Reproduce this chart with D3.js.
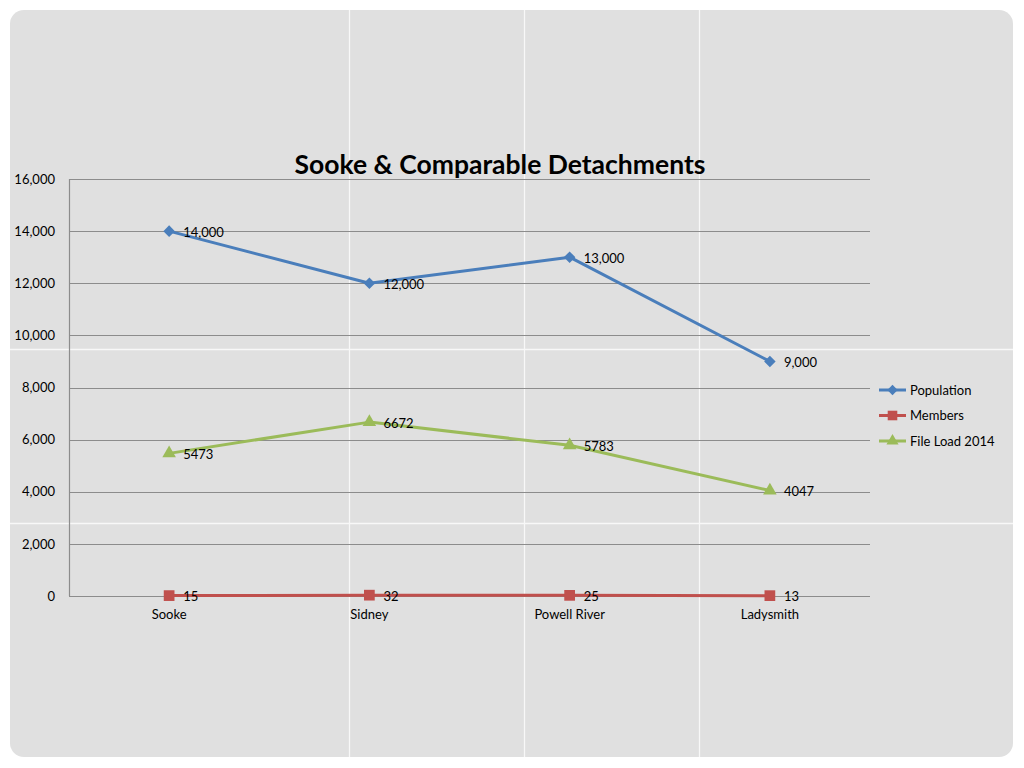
<!DOCTYPE html>
<html><head><meta charset="utf-8">
<script src="https://cdn.jsdelivr.net/npm/d3@7"></script>
<style>body{margin:0;background:#fff;}svg{display:block;font-family:"Lato","Open Sans",sans-serif;}</style>
</head><body>
<svg id="c" width="1024" height="768"></svg>
<script>
const categories = ["Sooke", "Sidney", "Powell River", "Ladysmith"];
const population = [14000, 12000, 13000, 9000];
const members = [15, 32, 25, 13];
const fileLoad = [5473, 6672, 5783, 4047];
const yTicks = [0, 2000, 4000, 6000, 8000, 10000, 12000, 14000, 16000];
const seriesNames = ["Population", "Members", "File Load 2014"];

(function(){
const FONT = "Lato, Open Sans, sans-serif";
const FS = 13;
const svg = d3.select("#c");
// slide background
svg.append("rect").attr("x",10).attr("y",10).attr("width",1003).attr("height",747).attr("rx",14).attr("fill","#e0e0e0");
const bgLines = svg.append("g").attr("stroke","#f8f8f8").attr("stroke-width",1.3);
[349.5,524.5,699.5].forEach(x=>bgLines.append("line").attr("x1",x).attr("x2",x).attr("y1",10).attr("y2",757));
[349.5,523.5].forEach(y=>bgLines.append("line").attr("x1",10).attr("x2",1013).attr("y1",y).attr("y2",y));

const pL=69, pR=870, pT=179, pB=596;
const x = d3.scaleBand().domain(categories).range([pL,pR]);
const y = d3.scaleLinear().domain([0,16000]).range([pB,pT]);
const cx = c => x(c)+x.bandwidth()/2;

// gridlines
svg.append("g").selectAll("line").data(yTicks).join("line")
  .attr("x1",pL).attr("x2",pR).attr("y1",d=>Math.round(y(d))+0.5).attr("y2",d=>Math.round(y(d))+0.5)
  .attr("stroke","#8c8c8c").attr("stroke-width",1.2);
svg.append("line").attr("x1",pL+0.5).attr("x2",pL+0.5).attr("y1",pT).attr("y2",pB).attr("stroke","#8c8c8c").attr("stroke-width",1.2);

// y axis labels
const yAxis = d3.axisLeft(y).tickValues(yTicks).tickFormat(d3.format(",")).tickSize(0).tickPadding(14);
const ya = svg.append("g").attr("transform",`translate(${pL},0)`).call(yAxis);
ya.select(".domain").remove();
ya.selectAll("text").attr("font-size",FS).attr("fill","#000").attr("font-family",FONT);

// x axis labels
const xAxis = d3.axisBottom(x).tickSize(0).tickPadding(14);
const xa = svg.append("g").attr("transform",`translate(0,${pB})`).call(xAxis);
xa.select(".domain").remove();
xa.selectAll("text").attr("font-size",FS).attr("fill","#000").attr("font-family",FONT);

// title
svg.append("text").attr("x",500).attr("y",174).attr("text-anchor","middle").attr("font-family",FONT)
  .attr("font-size",26.5).attr("font-weight","bold").attr("fill","#000").text("Sooke & Comparable Detachments");

const series = [
  {name:seriesNames[0], values:population, color:"#4a7ebb", marker:d3.symbolDiamond2, size:85, fmt:d3.format(",")},
  {name:seriesNames[1], values:members, color:"#c0504d", marker:d3.symbolSquare, size:115, fmt:d3.format("d")},
  {name:seriesNames[2], values:fileLoad, color:"#9bbb59", marker:d3.symbolTriangle, size:80, fmt:d3.format("d")}
];
const line = d3.line().x((d,i)=>cx(categories[i])).y(d=>y(d));
series.forEach(s=>{
  const g = svg.append("g");
  g.append("path").attr("d",line(s.values)).attr("fill","none").attr("stroke",s.color).attr("stroke-width",3).attr("stroke-linejoin","round");
  g.selectAll("path.m").data(s.values).join("path").attr("class","m")
    .attr("d",d3.symbol().type(s.marker).size(s.size))
    .attr("transform",(d,i)=>`translate(${cx(categories[i])},${y(d)})`).attr("fill",s.color);
  g.selectAll("text").data(s.values).join("text")
    .attr("x",(d,i)=>cx(categories[i])+14).attr("y",d=>y(d)+5.5)
    .attr("font-family",FONT).attr("font-size",FS).attr("fill","#000").text(d=>s.fmt(d));
});

// legend
const lg = svg.append("g");
series.forEach((s,i)=>{
  const ly = 390 + i*25.5;
  lg.append("line").attr("x1",879).attr("x2",906).attr("y1",ly).attr("y2",ly).attr("stroke",s.color).attr("stroke-width",3);
  lg.append("path").attr("d",d3.symbol().type(s.marker).size(s.size*0.8)).attr("transform",`translate(892.5,${ly})`).attr("fill",s.color);
  lg.append("text").attr("x",910).attr("y",ly+4.5).attr("font-family",FONT).attr("font-size",FS).attr("fill","#000").text(s.name);
});
})();
</script>
</body></html>
